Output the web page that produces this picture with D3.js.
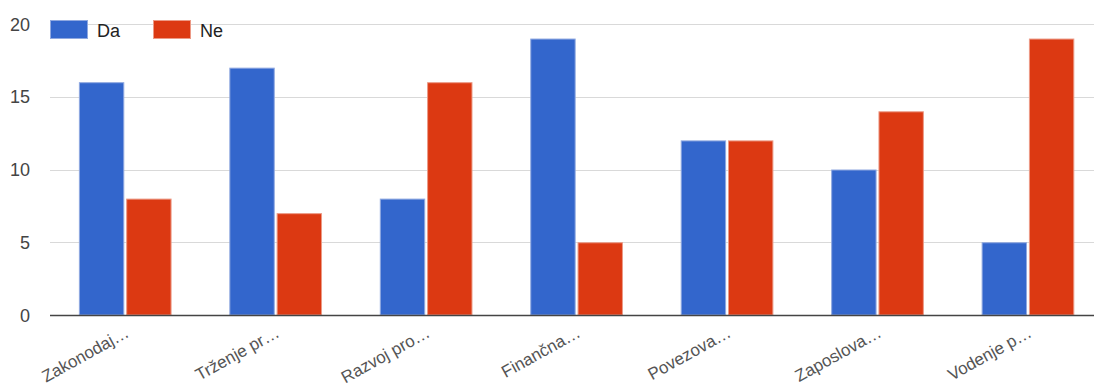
<!DOCTYPE html>
<html><head><meta charset="utf-8">
<script src="https://cdn.jsdelivr.net/npm/d3@7"></script>
<style>body{margin:0;background:#fff}svg{display:block;font-family:Arial,"Liberation Sans",sans-serif}</style>
</head><body>
<svg id="c" width="1094" height="389"></svg>
<script>
const categories = ["Zakonodaj…","Trženje pr…","Razvoj pro…","Finančna…","Povezova…","Zaposlova…","Vodenje p…"];
const seriesNames = ["Da","Ne"];
const daValues = [16,17,8,19,12,10,5];
const neValues = [8,7,16,5,12,14,19];
const yTicks = [0,5,10,15,20];
const colors = ["#3366cc","#dc3912"];

(function(){
const svg = d3.select("#c");
const pl = 50, pr = 1103.2, pt = 24, pb = 315;
const x = d3.scaleBand().domain(categories).range([pl, pr]).paddingInner(0.384).paddingOuter(0.192);
const xi = d3.scaleBand().domain(seriesNames).range([0, x.bandwidth()]).paddingInner(0.04);
const y = d3.scaleLinear().domain([0,20]).range([pb, pt]);

// gridlines
svg.append("g").selectAll("line").data(yTicks.filter(d=>d>0)).join("line")
  .attr("x1", pl).attr("x2", 1094).attr("y1", d=>Math.round(y(d))+0.5).attr("y2", d=>Math.round(y(d))+0.5)
  .attr("stroke","#d9d9d9").attr("stroke-width",1);

// y labels
svg.append("g").selectAll("text").data(yTicks).join("text")
  .attr("x", 30).attr("y", d=>y(d)+6.5).attr("text-anchor","end")
  .attr("font-size",18).attr("fill","#444").text(d=>d);

const data = categories.map((c,i)=>({c, vals:[daValues[i], neValues[i]]}));
const g = svg.append("g").selectAll("g").data(data).join("g").attr("transform", d=>`translate(${x(d.c)},0)`);
g.selectAll("rect").data(d=>d.vals.map((v,j)=>({v, s:seriesNames[j], j}))).join("rect")
  .attr("x", d=>xi(d.s)+0.5).attr("width", xi.bandwidth()-1)
  .attr("y", d=>y(d.v)+0.5).attr("height", d=>y(0)-y(d.v)-0.5)
  .attr("fill", d=>colors[d.j]).attr("stroke", d=>d.j===0?"#8fa8e0":"#ec9a86").attr("stroke-width",1);

// baseline
svg.append("line").attr("x1",pl).attr("x2",1094).attr("y1",y(0)+0.5).attr("y2",y(0)+0.5)
  .attr("stroke","#444").attr("stroke-width",1.3);

// x labels
svg.append("g").selectAll("text").data(categories).join("text")
  .attr("transform", d=>`translate(${x(d)+x.bandwidth()/2+5},${336}) rotate(-29)`)
  .attr("text-anchor","end").attr("font-size",17).attr("fill","#555").text(d=>d);

// legend
const lg = svg.append("g");
seriesNames.forEach((s,i)=>{
  const lx = 50 + i*103;
  lg.append("rect").attr("x",lx+0.5).attr("y",20.5).attr("width",37).attr("height",18)
    .attr("fill",colors[i]).attr("stroke", i===0?"#8fa8e0":"#ec9a86");
  lg.append("text").attr("x",lx+47).attr("y",37).attr("font-size",18).attr("fill","#222").text(s);
});
})();
</script>
</body></html>
